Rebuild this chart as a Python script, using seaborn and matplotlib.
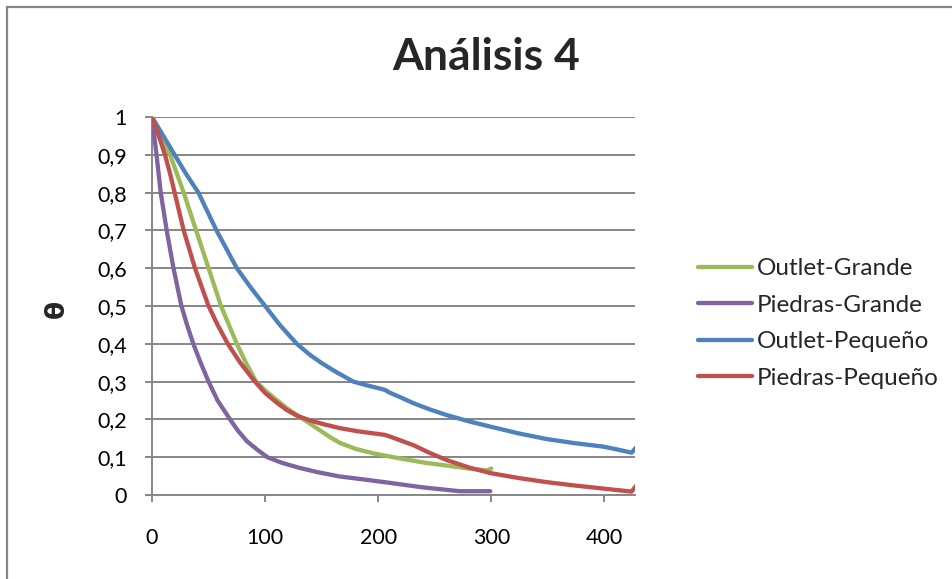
import matplotlib
matplotlib.use("Agg")
import matplotlib.pyplot as plt
from matplotlib.patches import Rectangle
from matplotlib.ticker import FuncFormatter
import seaborn as sns
import pandas as pd

# ---- data ----
title = "Análisis 4"
ylabel = "θ"
series_names = ["Outlet-Grande", "Piedras-Grande", "Outlet-Pequeño", "Piedras-Pequeño"]
series_colors = ["#9BBB59", "#8064A2", "#4F81BD", "#C0504D"]

og_x = [0, 8, 16, 22, 28, 33.5, 39, 44.5, 50, 55.5, 61, 68, 75, 83, 92, 101, 110, 119, 128,
        134, 142, 150, 158, 166, 180, 196, 217, 240, 260, 280, 296, 300]
og_y = [1.0, 0.95, 0.9, 0.85, 0.8, 0.75, 0.7, 0.65, 0.6, 0.55, 0.5, 0.45, 0.4, 0.35, 0.3, 0.274,
        0.252, 0.23, 0.212, 0.2, 0.184, 0.168, 0.152, 0.138, 0.122, 0.11, 0.098, 0.086, 0.078,
        0.07, 0.065, 0.07]

pg_x = [0, 2, 4, 7.7, 13, 19, 26, 31, 36.5, 43, 50, 58, 69, 76, 84, 93, 102, 115, 130, 147,
        166, 185, 208, 225, 240, 256, 272, 299]
pg_y = [1.0, 0.95, 0.9, 0.8, 0.7, 0.6, 0.5, 0.45, 0.4, 0.35, 0.3, 0.25, 0.2, 0.17, 0.142, 0.12,
        0.1, 0.085, 0.072, 0.06, 0.049, 0.042, 0.033, 0.026, 0.02, 0.015, 0.01, 0.01]

op_x = [0, 10, 20, 30, 41, 49, 57, 66, 75, 87, 100, 113, 128, 140, 150, 163, 178, 190, 201,
        206, 210, 220, 231, 245, 260, 280, 299, 324, 349, 374, 399, 412, 424, 432]
op_y = [1.0, 0.95, 0.9, 0.85, 0.8, 0.75, 0.7, 0.65, 0.6, 0.55, 0.5, 0.45, 0.4, 0.37, 0.349,
        0.325, 0.3, 0.29, 0.282, 0.278, 0.271, 0.258, 0.243, 0.227, 0.212, 0.195, 0.181, 0.163,
        0.148, 0.137, 0.128, 0.12, 0.112, 0.14]

pp_x = [0, 6, 11.5, 16, 20, 24, 28, 33, 38, 44, 50, 58, 67, 78, 91, 100, 110, 119, 128, 140,
        152, 166, 181, 196, 206, 211, 220, 231, 245, 260, 280, 299, 324, 349, 374, 399, 424, 432]
pp_y = [1.0, 0.95, 0.9, 0.85, 0.8, 0.75, 0.7, 0.65, 0.6, 0.55, 0.5, 0.45, 0.4, 0.35, 0.3, 0.27,
        0.245, 0.225, 0.21, 0.197, 0.187, 0.177, 0.169, 0.163, 0.159, 0.154, 0.144, 0.132, 0.112,
        0.093, 0.073, 0.058, 0.045, 0.034, 0.025, 0.017, 0.009, 0.04]

x_ticks = [0, 100, 200, 300, 400]
y_ticks = [0, 0.1, 0.2, 0.3, 0.4, 0.5, 0.6, 0.7, 0.8, 0.9, 1.0]

# ---- figure ----
sns.set_theme(style="white")
plt.rcParams["font.family"] = ["Lato", "DejaVu Sans"]

W, H = 953, 579
fig = plt.figure(figsize=(W / 100, H / 100), dpi=100)
fig.patch.set_facecolor("white")

L, R, T, B = 152, 635, 117, 495
ax = fig.add_axes([L / W, 1 - B / H, (R - L) / W, (B - T) / H])
ax.set_facecolor("white")

grey = "#868686"
for xs, ys, name, col in zip([og_x, pg_x, op_x, pp_x], [og_y, pg_y, op_y, pp_y],
                             series_names, series_colors):
    df = pd.DataFrame({"x": xs, "y": ys})
    sns.lineplot(data=df, x="x", y="y", ax=ax, color=col, linewidth=3.1,
                 estimator=None, sort=False, label=name,
                 solid_capstyle="round", solid_joinstyle="round", zorder=3)

ax.set_xlim(0, 427)
ax.set_ylim(0, 1)
ax.set_xticks(x_ticks)
ax.set_yticks(y_ticks)
ax.yaxis.set_major_formatter(FuncFormatter(lambda v, p: ("%g" % round(v, 1)).replace(".", ",")))
ax.grid(axis="y", color=grey, linewidth=1.4)
ax.grid(axis="x", visible=False)
ax.set_axisbelow(True)
for s in ["top", "right"]:
    ax.spines[s].set_visible(False)
for s in ["left", "bottom"]:
    ax.spines[s].set_color(grey)
    ax.spines[s].set_linewidth(1.4)
ax.tick_params(axis="both", which="both", direction="out", length=5, width=1.4,
               color=grey, labelsize=15.5, labelcolor="black", left=True, bottom=True)
ax.tick_params(axis="y", pad=13)
ax.tick_params(axis="x", pad=19)
ax.set_xlabel("")
ax.set_ylabel("")

ax.get_legend().remove()
handles, labels = ax.get_legend_handles_labels()
fig.legend(handles, labels, loc="center left",
           bbox_to_anchor=(698 / W, 1 - 323.5 / H), frameon=False,
           fontsize=17.5, handlelength=2.22, handletextpad=0.2,
           labelspacing=0.64, borderpad=0, borderaxespad=0)

fig.text(486 / W, 1 - 57 / H, title, ha="center", va="center",
         fontsize=32, fontweight="bold")
fig.text(57 / W, 1 - 309 / H, ylabel, ha="center", va="center",
         rotation=90, fontsize=19, fontweight="bold", family=["DejaVu Sans"])

fig.patches.append(Rectangle((7 / W, -0.1), 1.2, 1 - 7 / H + 0.1,
                             transform=fig.transFigure, fill=False,
                             edgecolor=grey, linewidth=1.6, zorder=10))

fig.savefig("out.png", dpi=100, facecolor="white")
